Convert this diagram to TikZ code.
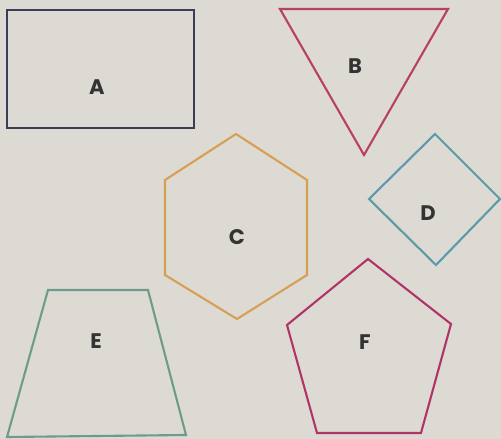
\documentclass[tikz,border=0pt]{standalone}
\usepackage{fontspec}
\setmainfont{Poppins}
\definecolor{shpPaper}{RGB}{221,218,212}
\definecolor{shpNavy}{RGB}{58,60,88}
\definecolor{shpRose}{RGB}{184,64,96}
\definecolor{shpOchre}{RGB}{214,160,84}
\definecolor{shpTeal}{RGB}{92,154,170}
\definecolor{shpSage}{RGB}{110,156,138}
\definecolor{shpPlum}{RGB}{176,52,104}
\begin{document}
\begin{tikzpicture}[x=0.02cm,y=-0.02cm]
\tikzset{
    shpEdge/.style={line width=1.2pt,line join=miter},
    shpLabel/.style={text=black!80,font=\fontsize{12}{14}\selectfont\bfseries,inner sep=0pt},
}
\fill[shpPaper] (0,0) rectangle (501,439);
\useasboundingbox (0,0) rectangle (501,439);

\draw[shpEdge,shpNavy] (7,10) rectangle (194,128);
\draw[shpEdge,shpRose] (280,9) -- (448,9) -- (364,155) -- cycle;
\draw[shpEdge,shpOchre] (236,134) -- (307,180) -- (307,275) -- (237,319) -- (165,275) -- (165,180) -- cycle;
\draw[shpEdge,shpTeal] (435,134) -- (500,199) -- (436,265) -- (369,199) -- cycle;
\draw[shpEdge,shpSage] (48,290) -- (148,290) -- (186,435) -- (7,437) -- cycle;
\draw[shpEdge,shpPlum] (368,259) -- (451,324) -- (421,433) -- (317,433) -- (287,325) -- cycle;

\node[shpLabel] (lblA) at (97,87) {A};
\node[shpLabel] (lblB) at (355,66) {B};
\node[shpLabel] (lblC) at (237,237) {C};
\node[shpLabel] (lblD) at (428,213) {D};
\node[shpLabel] (lblE) at (96,341) {E};
\node[shpLabel] (lblF) at (365,342) {F};
\end{tikzpicture}
\end{document}
